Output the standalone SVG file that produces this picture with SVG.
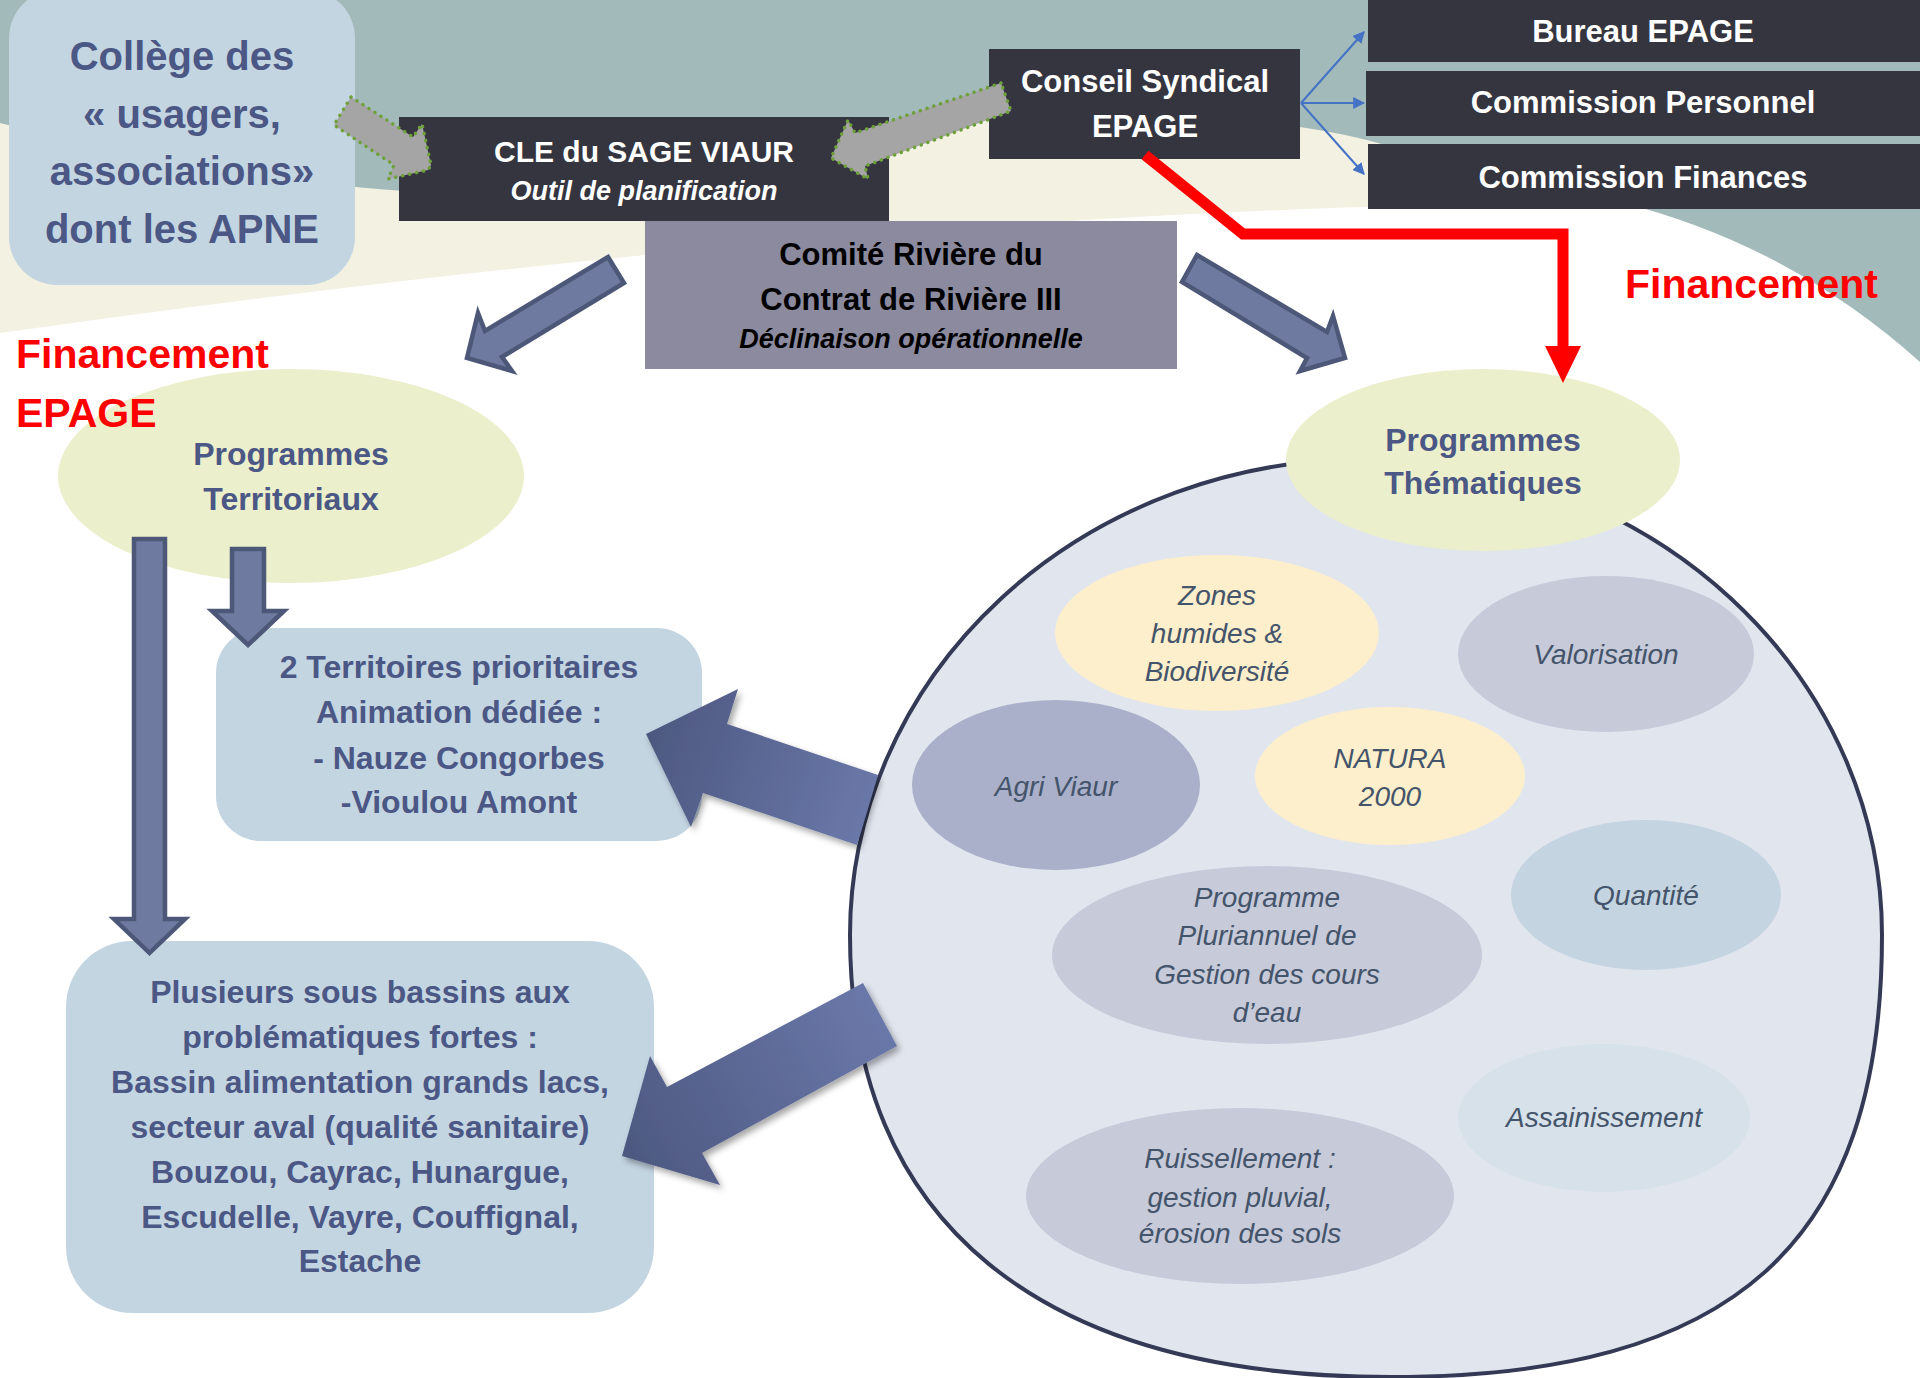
<svg xmlns="http://www.w3.org/2000/svg" width="1920" height="1378" viewBox="0 0 1920 1378">
<defs>
<style>
.t{font-family:"Liberation Sans",Arial,sans-serif;font-weight:bold;text-anchor:middle}
.w{fill:#ffffff}
.s{fill:#4b5784}
.k{fill:#000000}
.it{font-style:italic}
.r{fill:#ff0000;font-family:"Liberation Sans",Arial,sans-serif;font-weight:bold;font-size:41px}
.i{font-family:"Liberation Sans",Arial,sans-serif;font-style:italic;font-size:28px;fill:#44546a;text-anchor:middle}
.dark{fill:#35353f}
.lb{fill:#c4d5e2}
.ga{fill:#a5a5a5;stroke:#70a03a;stroke-width:3.5;stroke-dasharray:0.1 7;stroke-linecap:round;stroke-linejoin:round}
.ba{fill:#6f7aa0;stroke:#4d5777;stroke-width:4.5;stroke-linejoin:miter}
.thin{fill:none;stroke:#4472c4;stroke-width:2;marker-end:url(#mb)}
</style>
<marker id="mb" viewBox="0 0 10 10" refX="9" refY="5" markerWidth="6" markerHeight="6" orient="auto" markerUnits="strokeWidth">
<path d="M0,0 L10,5 L0,10 z" fill="#4472c4"/>
</marker>
<linearGradient id="gA" gradientUnits="userSpaceOnUse" x1="646" y1="734" x2="870" y2="810">
<stop offset="0" stop-color="#4d5880"/><stop offset="1" stop-color="#6a78a9"/>
</linearGradient>
<linearGradient id="gB" gradientUnits="userSpaceOnUse" x1="622" y1="1156" x2="880" y2="1015">
<stop offset="0" stop-color="#4d5880"/><stop offset="1" stop-color="#6a78a9"/>
</linearGradient>
<filter id="sh" x="-20%" y="-20%" width="140%" height="140%">
<feDropShadow dx="3" dy="4" stdDeviation="3" flood-color="#000000" flood-opacity="0.35"/>
</filter>
</defs>

<g id="background">
<rect x="0" y="0" width="1920" height="1378" fill="#ffffff"/>
<rect x="0" y="0" width="1920" height="420" fill="#a3babb"/>
<path d="M0,123 C150,160 300,185 420,192 C620,198 800,135 990,120 C1150,110 1280,118 1367,140 C1460,165 1560,195 1625,208 L1625,420 L0,420 Z" fill="#f3f1e1"/>
<path d="M0,333 Q900,205 1620,202 Q1790,245 1920,362 L1920,1378 L0,1378 Z" fill="#ffffff"/>
</g>

<g id="programmes-thematiques-zone">
<path d="M850,935 A516,476 0 0 1 1882,935 C1882,1244 1734,1377 1390,1377 C1039,1377 850,1222 850,935 Z" fill="#e1e5ee" stroke="#343a55" stroke-width="4"/>
</g>

<g id="zones-humides">
<ellipse cx="1217" cy="633" rx="162" ry="78" fill="#fdefcc"/>
<text class="i" x="1217" y="605">Zones</text>
<text class="i" x="1217" y="643">humides &amp;</text>
<text class="i" x="1217" y="681">Biodiversité</text>
</g>
<g id="valorisation">
<ellipse cx="1606" cy="654" rx="148" ry="78" fill="#c7cad9"/>
<text class="i" x="1606" y="664">Valorisation</text>
</g>
<g id="agri-viaur">
<ellipse cx="1056" cy="785" rx="144" ry="85" fill="#aab0c9"/>
<text class="i" x="1056" y="796">Agri Viaur</text>
</g>
<g id="natura-2000">
<ellipse cx="1390" cy="776" rx="135" ry="69" fill="#fdefcc"/>
<text class="i" x="1390" y="768">NATURA</text>
<text class="i" x="1390" y="806">2000</text>
</g>
<g id="quantite">
<ellipse cx="1646" cy="895" rx="135" ry="75" fill="#c4d4e1"/>
<text class="i" x="1646" y="905">Quantité</text>
</g>
<g id="ppgce">
<ellipse cx="1267" cy="955" rx="215" ry="89" fill="#c7cad9"/>
<text class="i" x="1267" y="907">Programme</text>
<text class="i" x="1267" y="945">Pluriannuel de</text>
<text class="i" x="1267" y="984">Gestion des cours</text>
<text class="i" x="1267" y="1022">d’eau</text>
</g>
<g id="assainissement">
<ellipse cx="1604" cy="1118" rx="146" ry="74" fill="#d7e1ea"/>
<text class="i" x="1604" y="1127">Assainissement</text>
</g>
<g id="ruissellement">
<ellipse cx="1240" cy="1196" rx="214" ry="88" fill="#c7cad9"/>
<text class="i" x="1240" y="1168">Ruissellement :</text>
<text class="i" x="1240" y="1207">gestion pluvial,</text>
<text class="i" x="1240" y="1243">érosion des sols</text>
</g>

<g id="programmes-thematiques">
<ellipse cx="1483" cy="460" rx="197" ry="91" fill="#ecefcb"/>
<text class="t s" x="1483" y="451" font-size="32">Programmes</text>
<text class="t s" x="1483" y="494" font-size="32">Thématiques</text>
</g>

<g id="programmes-territoriaux">
<ellipse cx="291" cy="476" rx="233" ry="107" fill="#ecefcb"/>
<text class="t s" x="291" y="465" font-size="32">Programmes</text>
<text class="t s" x="291" y="510" font-size="32">Territoriaux</text>
</g>

<g id="college">
<rect class="lb" x="9" y="-10" width="346" height="295" rx="48" ry="48"/>
<text class="t s" x="182" y="70" font-size="40">Collège des</text>
<text class="t s" x="182" y="128" font-size="40">« usagers,</text>
<text class="t s" x="182" y="185" font-size="40">associations»</text>
<text class="t s" x="182" y="243" font-size="40">dont les APNE</text>
</g>

<g id="cle">
<rect class="dark" x="399" y="117" width="490" height="104"/>
<text class="t w" x="644" y="162" font-size="30">CLE du SAGE VIAUR</text>
<text class="t w it" x="644" y="200" font-size="27">Outil de planification</text>
</g>

<g id="conseil-syndical">
<rect class="dark" x="989" y="49" width="311" height="110"/>
<text class="t w" x="1145" y="92" font-size="31">Conseil Syndical</text>
<text class="t w" x="1145" y="137" font-size="31">EPAGE</text>
</g>

<g id="bureau">
<rect class="dark" x="1368" y="0" width="552" height="62"/>
<text class="t w" x="1643" y="42" font-size="31">Bureau EPAGE</text>
</g>
<g id="commission-personnel">
<rect class="dark" x="1366" y="71" width="554" height="65"/>
<text class="t w" x="1643" y="113" font-size="31">Commission Personnel</text>
</g>
<g id="commission-finances">
<rect class="dark" x="1368" y="144" width="552" height="65"/>
<text class="t w" x="1643" y="188" font-size="31">Commission Finances</text>
</g>

<g id="comite-riviere">
<rect x="645" y="221" width="532" height="148" fill="#8b8a9e"/>
<text class="t k" x="911" y="265" font-size="31">Comité Rivière du</text>
<text class="t k" x="911" y="310" font-size="31">Contrat de Rivière III</text>
<text class="t k it" x="911" y="348" font-size="27">Déclinaison opérationnelle</text>
</g>

<g id="territoires-prioritaires">
<rect class="lb" x="216" y="628" width="486" height="213" rx="45" ry="45"/>
<text class="t s" x="459" y="678" font-size="32">2 Territoires prioritaires</text>
<text class="t s" x="459" y="723" font-size="32">Animation dédiée :</text>
<text class="t s" x="459" y="769" font-size="32">- Nauze Congorbes</text>
<text class="t s" x="459" y="813" font-size="32">-Vioulou Amont</text>
</g>

<g id="sous-bassins">
<rect class="lb" x="66" y="941" width="588" height="372" rx="66" ry="66"/>
<text class="t s" x="360" y="1003" font-size="32">Plusieurs sous bassins aux</text>
<text class="t s" x="360" y="1048" font-size="32">problématiques fortes :</text>
<text class="t s" x="360" y="1093" font-size="32">Bassin alimentation grands lacs,</text>
<text class="t s" x="360" y="1138" font-size="32">secteur aval (qualité sanitaire)</text>
<text class="t s" x="360" y="1183" font-size="32">Bouzou, Cayrac, Hunargue,</text>
<text class="t s" x="360" y="1228" font-size="32">Escudelle, Vayre, Couffignal,</text>
<text class="t s" x="360" y="1272" font-size="32">Estache</text>
</g>

<g id="connectors">
<line class="thin" x1="1301" y1="103" x2="1364" y2="32"/>
<line class="thin" x1="1301" y1="103" x2="1364" y2="103"/>
<line class="thin" x1="1301" y1="103" x2="1364" y2="174"/>
<polygon class="ga" points="351,97 413,137 422,124 431,165 428,170 388,179 394,165 334,125"/>
<polygon class="ga" points="1001,83 855,133 848,120 831,158 868,179 865,166 1011,111"/>
<polygon class="ba" points="608,257 624,283 502,357 512,371 467,358 478,313 485,331"/>
<polygon class="ba" points="1197,255 1327,332 1333,316 1345,358 1300,371 1307,358 1182,282"/>
<polygon class="ba" points="134,539 165,539 165,919 185,919 149.5,953 114,919 134,919"/>
<polygon class="ba" points="232,549 264,549 264,611 284,611 248,645 212,611 232,611"/>
<polygon points="646,734 738,689 727,724 878,775 857,845 703,793 691,827" fill="url(#gA)" filter="url(#sh)"/>
<polygon points="622,1156 650,1056 667,1087 863,983 897,1046 702,1153 720,1185" fill="url(#gB)" filter="url(#sh)"/>
<polyline points="1145,155 1243,234 1563,234 1563,350" fill="none" stroke="#ff0000" stroke-width="11" stroke-linejoin="miter"/>
<polygon points="1545,346 1581,346 1563,383" fill="#ff0000"/>
</g>

<g id="labels">
<text class="r" x="1625" y="298">Financement</text>
<text class="r" x="16" y="368">Financement</text>
<text class="r" x="16" y="427">EPAGE</text>
</g>
</svg>
